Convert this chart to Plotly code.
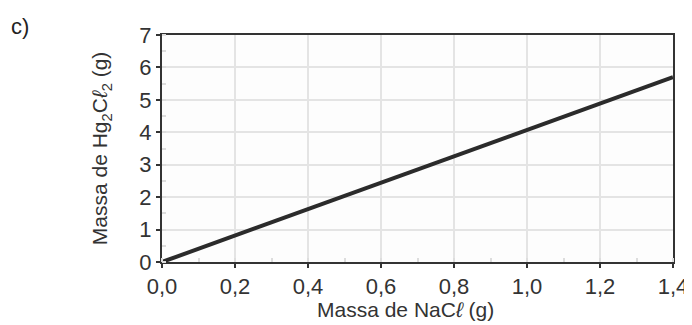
import plotly.graph_objects as go

mass_nacl = [0.0, 1.4]
mass_hg2cl2 = [0.0, 5.7]
x_ticks = [0, 0.2, 0.4, 0.6, 0.8, 1.0, 1.2, 1.4]
x_tick_labels = ["0,0", "0,2", "0,4", "0,6", "0,8", "1,0", "1,2", "1,4"]
y_ticks = [0, 1, 2, 3, 4, 5, 6, 7]

font_family = "Liberation Sans, Arial, sans-serif"
axis_color = "#333333"
grid_color = "#e4e4e4"
text_color = "#333333"

fig = go.Figure()
fig.add_trace(go.Scatter(x=mass_nacl, y=mass_hg2cl2, mode="lines",
                         line=dict(color="#2b2b2b", width=4), showlegend=False,
                         cliponaxis=False))

fig.update_xaxes(range=[0, 1.4], tickvals=x_ticks, ticktext=x_tick_labels,
                 showgrid=True, gridcolor=grid_color, gridwidth=2,
                 showline=True, linecolor=axis_color, linewidth=2, mirror=True,
                 ticks="outside", ticklen=4, tickcolor=axis_color, tickwidth=1.5,
                 zeroline=False,
                 minor=dict(dtick=0.1, ticks="inside", ticklen=4, tickcolor="#dddddd", showgrid=False),
                 tickfont=dict(family=font_family, size=22, color=text_color))
fig.update_yaxes(range=[0, 7], tickvals=y_ticks,
                 showgrid=True, gridcolor=grid_color, gridwidth=2,
                 showline=True, linecolor=axis_color, linewidth=2, mirror=True,
                 ticks="outside", ticklen=4, tickcolor=axis_color, tickwidth=1.5,
                 zeroline=False,
                 minor=dict(dtick=0.5, ticks="inside", ticklen=4, tickcolor="#dddddd", showgrid=False),
                 tickfont=dict(family=font_family, size=22, color=text_color))

fig.add_annotation(text="Massa de NaC<i>ℓ</i> (g)", xref="paper", yref="paper",
                   x=0.477, y=-0.21, xanchor="center", yanchor="middle", showarrow=False,
                   font=dict(family=font_family, size=21, color=text_color))
fig.add_annotation(text="Massa de Hg<sub>2</sub>C<i>ℓ</i><sub>2</sub> (g)", xref="paper", yref="paper",
                   x=-0.12, y=0.5, xanchor="center", yanchor="middle", textangle=-90,
                   showarrow=False,
                   font=dict(family=font_family, size=21, color=text_color))
fig.add_annotation(text="c)", xref="paper", yref="paper", x=-0.30, y=1.1,
                   xanchor="left", yanchor="top", showarrow=False,
                   font=dict(family=font_family, size=22, color="#222222"))

fig.update_layout(width=692, height=325, margin=dict(l=154, r=20, t=27, b=71),
                  paper_bgcolor="white", plot_bgcolor="#fdfdfd")

fig.write_html("out.html")
